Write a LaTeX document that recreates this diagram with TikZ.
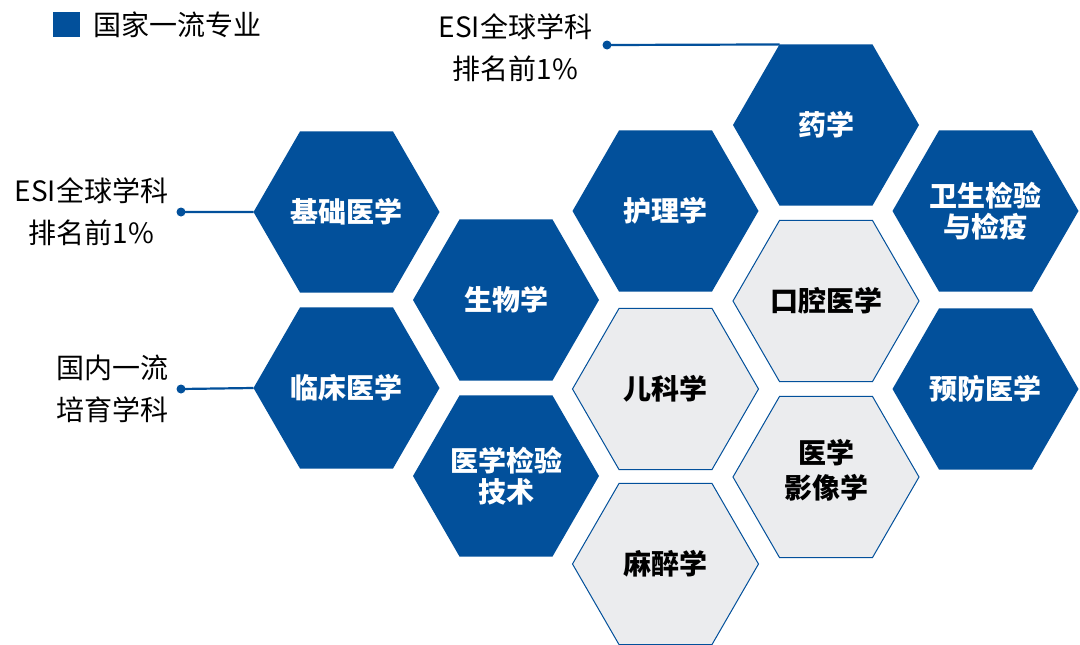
\documentclass[tikz,border=0pt]{standalone}
\usepackage{fontspec}
\setmainfont{Noto Sans CJK SC}
\usepackage{xcolor}
\usepackage{tikz}
\usetikzlibrary{positioning,shapes.geometric}
\definecolor{hexblue}{RGB}{2,80,155}
\definecolor{hexgray}{RGB}{235,236,238}
\tikzset{
  hexbox/.style={
    regular polygon,regular polygon sides=6,minimum size=186pt,
    inner sep=0pt,outer sep=0pt,align=center,
    font=\fontsize{28}{31}\selectfont\bfseries
  },
  bluehex/.style={hexbox,fill=hexblue,text=white},
  grayhex/.style={hexbox,fill=hexgray,draw=hexblue,line width=1pt,text=black},
  notetext/.style={align=center,inner sep=0pt,font=\fontsize{28}{42}\selectfont},
  noteline/.style={draw=hexblue,line width=2.2pt},
  notedot/.style={circle,fill=hexblue,inner sep=0pt,minimum size=9pt}
}

\begin{document}
\begin{tikzpicture}[x=1pt,y=-1pt]
  \useasboundingbox (0,0) rectangle (1080,645);
  % legend
  \node[fill=hexblue,minimum width=27pt,minimum height=25pt,inner sep=0pt] (legendbox) at (66.5,24.5) {};
  \node[notetext,anchor=west,right=13pt of legendbox] (legendtext) {国家一流专业};
  % honeycomb
  \node[bluehex] (yao) at (826,125) {药学};
  \node[bluehex] (jichu) at (346.5,212) {基础医学};
  \node[bluehex] (huli) at (665.5,211) {护理学};
  \node[bluehex] (weisheng) at (985.5,211) {卫生检验\\与检疫};
  \node[bluehex] (shengwu) at (506,300) {生物学};
  \node[grayhex] (kouqiang) at (826,301) {口腔医学};
  \node[bluehex] (linchuang) at (346.5,388) {临床医学};
  \node[grayhex] (erke) at (665.5,389) {儿科学};
  \node[bluehex] (yufang) at (985.5,389) {预防医学};
  \node[bluehex] (jianyan) at (506,476) {医学检验\\技术};
  \node[grayhex,font=\fontsize{28}{35}\selectfont\bfseries] (yingxiang) at (826,477) {医学\\影像学\rule[-17pt]{0pt}{17pt}};
  \node[grayhex] (mazui) at (665.5,564) {麻醉学};
  % notes
  \node[notedot] (dotjichu) at (181,212) {};
  \node[notedot] (dotlinchuang) at (181,389) {};
  \node[notedot] (dotyao) at (607,45) {};
  \node[notetext,left=8pt of dotjichu] (esijichu) {ESI全球学科\\排名前1\%};
  \node[notetext,left=8pt of dotlinchuang] (peiyu) {国内一流\\培育学科};
  \node[notetext,left=10pt of dotyao,yshift=-3pt] (esiyao) {ESI全球学科\\排名前1\%};
  \draw[noteline] (dotjichu.center) -- (jichu.west);
  \draw[noteline] (dotlinchuang.center) -- (linchuang.west);
  \draw[noteline] (dotyao.center) -- (yao.120);
\end{tikzpicture}
\end{document}
